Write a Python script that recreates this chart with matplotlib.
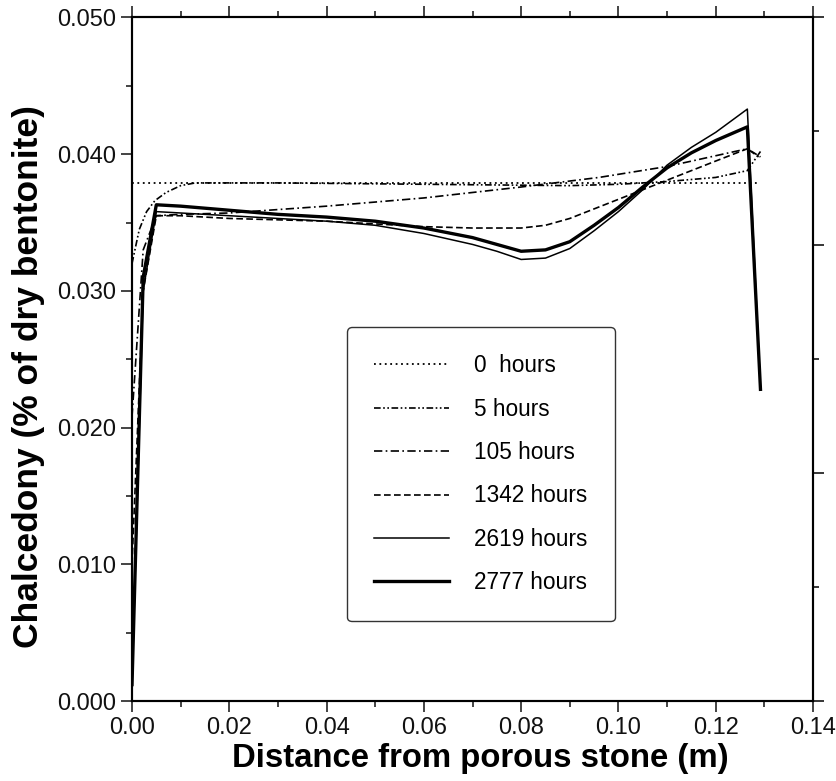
import numpy as np
import matplotlib
matplotlib.use("Agg")
import matplotlib.pyplot as plt
from matplotlib.ticker import MultipleLocator

plt.rcParams['font.family'] = ['Liberation Sans', 'DejaVu Sans']

# distance (m) vs chalcedony (% of dry bentonite)
x_0h = [0.0, 0.129]
y_0h = [0.0379, 0.0379]

x_5h = [0.0, 0.0015, 0.003, 0.0047, 0.007, 0.01, 0.013, 0.03, 0.06, 0.09, 0.10, 0.11, 0.12, 0.1265, 0.1292]
y_5h = [0.0320, 0.0345, 0.0358, 0.0366, 0.0372, 0.0377, 0.0379, 0.0379, 0.0378, 0.0377, 0.0378, 0.0380, 0.0383, 0.0388, 0.0402]

x_105h = [0.0, 0.0023, 0.005, 0.01, 0.02, 0.04, 0.06, 0.08, 0.096, 0.11, 0.1265, 0.1292]
y_105h = [0.0208, 0.0330, 0.0355, 0.0356, 0.0357, 0.0362, 0.0368, 0.0376, 0.0383, 0.0391, 0.0404, 0.0397]

x_1342h = [0.0, 0.0023, 0.005, 0.01, 0.02, 0.03, 0.04, 0.05, 0.06, 0.07, 0.08, 0.085, 0.09,
           0.095, 0.10, 0.105, 0.11, 0.115, 0.12, 0.1265, 0.1292]
y_1342h = [0.0100, 0.0300, 0.0355, 0.0355, 0.0353, 0.0352, 0.0351, 0.0349, 0.0347, 0.0346, 0.0346,
           0.0348, 0.0353, 0.0360, 0.0367, 0.0374, 0.0381, 0.0388, 0.0395, 0.0404, 0.0398]

x_sol = [0.0, 0.0023, 0.005, 0.01, 0.02, 0.03, 0.04, 0.05, 0.06, 0.07, 0.075, 0.08, 0.085, 0.09,
         0.095, 0.10, 0.105, 0.11, 0.115, 0.12, 0.1265, 0.1292]
y_2619h = [0.0010, 0.0300, 0.0358, 0.0357, 0.0355, 0.0353, 0.0351, 0.0348, 0.0342, 0.0334, 0.0329,
           0.0323, 0.0324, 0.0331, 0.0344, 0.0358, 0.0374, 0.0392, 0.0405, 0.0416, 0.0433, 0.0228]
y_2777h = [0.0012, 0.0310, 0.0363, 0.0362, 0.0359, 0.0356, 0.0354, 0.0351, 0.0346, 0.0339, 0.0334,
           0.0329, 0.0330, 0.0336, 0.0348, 0.0361, 0.0376, 0.0390, 0.0401, 0.0410, 0.0420, 0.0228]

labels = ["0  hours", "5 hours", "105 hours", "1342 hours", "2619 hours", "2777 hours"]

fig = plt.figure(figsize=(8.36, 7.81), dpi=100)
ax = fig.add_axes([0.1579, 0.1024, 0.8146, 0.8752])

ax.plot(x_0h, y_0h, color="k", lw=1.3, ls=(0, (1, 2)), label=labels[0])
ax.plot(x_5h, y_5h, color="k", lw=1.2, ls=(0, (4, 1.5, 1, 1.5, 1, 1.5)), label=labels[1])
ax.plot(x_105h, y_105h, color="k", lw=1.2, ls=(0, (5, 2, 1, 2)), label=labels[2])
ax.plot(x_1342h, y_1342h, color="k", lw=1.2, ls=(0, (4, 2)), label=labels[3])
ax.plot(x_sol, y_2619h, color="k", lw=1.1, ls="-", label=labels[4])
ax.plot(x_sol, y_2777h, color="k", lw=2.4, ls="-", label=labels[5])

ax.set_xlim(0, 0.14)
ax.set_ylim(0, 0.05)
ax.xaxis.set_major_locator(MultipleLocator(0.02))
ax.xaxis.set_minor_locator(MultipleLocator(0.01))
ax.yaxis.set_major_locator(MultipleLocator(0.01))
ax.yaxis.set_minor_locator(MultipleLocator(0.005))
ax.xaxis.set_major_formatter(plt.FormatStrFormatter("%.2f"))
ax.yaxis.set_major_formatter(plt.FormatStrFormatter("%.3f"))
ax.tick_params(which="both", direction="out", top=True, right=False, width=1.1, labelsize=17, colors="#111")
ax.tick_params(which="major", length=8)
ax.tick_params(which="minor", length=4.5)
for s in ax.spines.values():
    s.set_linewidth(1.5)

# right-hand axis only carries ticks
ax2 = ax.twinx()
ax2.set_ylim(0, 3)
ax2.yaxis.set_major_locator(MultipleLocator(1))
ax2.yaxis.set_minor_locator(MultipleLocator(0.5))
ax2.tick_params(which="both", direction="out", width=1.1, labelright=False)
ax2.tick_params(which="major", length=8)
ax2.tick_params(which="minor", length=4.5)
for s in ax2.spines.values():
    s.set_linewidth(1.5)

ax.set_xlabel("Distance from porous stone (m)", fontsize=23.7, fontweight="bold")
ax.xaxis.set_label_coords(0.511, -0.062)
ax.set_ylabel("Chalcedony (% of dry bentonite)", fontsize=25.5, fontweight="bold")
ax.yaxis.set_label_coords(-0.128, 0.474)

leg = ax.legend(loc="upper left", bbox_to_anchor=(0.316, 0.547), borderaxespad=0,
                fontsize=16.3, handlelength=3.3, handletextpad=1.1, labelspacing=0.9,
                borderpad=1.2, frameon=True, fancybox=True)
leg.get_frame().set_edgecolor("#333")
leg.get_frame().set_linewidth(1.0)
leg.get_frame().set_alpha(1)

fig.savefig("out.png", dpi=100)
